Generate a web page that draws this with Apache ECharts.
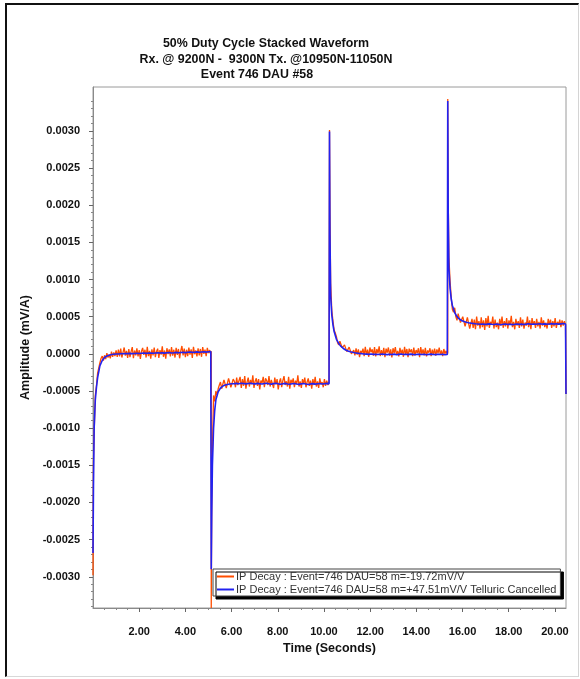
<!DOCTYPE html>
<html>
<head>
<meta charset="utf-8">
<title>50% Duty Cycle Stacked Waveform</title>
<script src="https://cdn.jsdelivr.net/npm/echarts@6/dist/echarts.min.js"></script>
<style>
  html, body { margin: 0; padding: 0; background: #fff; }
  #chart { position: absolute; left: 0; top: 0; width: 580px; height: 679px; }
  .frame {
    position: absolute; left: 5px; top: 3px; width: 571px; height: 671px;
    border-left: 2px solid #111; border-top: 2px solid #111;
    border-right: 1px solid #d4d4d4; border-bottom: 1px solid #d8d8d8;
    pointer-events: none;
  }
</style>
</head>
<body>
<div id="chart"></div>
<div class="frame"></div>
<script>
// amplitudes are in micro (mV/A), converted when the series are built
const UNIT = 1e-6;

// start of each half cycle (s)
const segStart = [0, 5.12, 10.24, 15.36];

// sample times inside one half cycle (s): blue (smoothed) and orange (raw)
const blueT = [0, 0.02, 0.05, 0.1, 0.15, 0.2, 0.3, 0.4, 0.5, 0.6, 0.7, 0.8, 0.9, 1.0,
  1.1, 1.2, 1.3, 1.4, 1.5, 1.6, 1.7, 1.8, 1.9, 2.0, 2.1, 2.2, 2.3, 2.4, 2.5, 2.6,
  2.7, 2.8, 2.9, 3.0, 3.1, 3.2, 3.3, 3.4, 3.5, 3.6, 3.7, 3.8, 3.9, 4.0, 4.1, 4.2,
  4.3, 4.4, 4.5, 4.6, 4.7, 4.8, 4.9, 5.0, 5.1, 5.12];
const orangeT = [0, 0.02, 0.05, 0.1, 0.15,
  0.2, 0.25, 0.3, 0.35, 0.4, 0.45, 0.5, 0.55, 0.6, 0.65, 0.7, 0.75, 0.8, 0.85, 0.9, 0.95, 1.0,
  1.05, 1.1, 1.15, 1.2, 1.25, 1.3, 1.35, 1.4, 1.45, 1.5,
  1.55, 1.6, 1.65, 1.7, 1.75, 1.8, 1.85, 1.9, 1.95, 2.0,
  2.05, 2.1, 2.15, 2.2, 2.25, 2.3, 2.35, 2.4, 2.45, 2.5,
  2.55, 2.6, 2.65, 2.7, 2.75, 2.8, 2.85, 2.9, 2.95, 3.0,
  3.05, 3.1, 3.15, 3.2, 3.25, 3.3, 3.35, 3.4, 3.45, 3.5,
  3.55, 3.6, 3.65, 3.7, 3.75, 3.8, 3.85, 3.9, 3.95, 4.0,
  4.05, 4.1, 4.15, 4.2, 4.25, 4.3, 4.35, 4.4, 4.45, 4.5,
  4.55, 4.6, 4.65, 4.7, 4.75, 4.8, 4.85, 4.9, 4.95, 5.0,
  5.05, 5.1, 5.12];

// raw IP decay (orange)
const orange1 = [-2980, -1450, -1050, -560, -430,
  -260, -190, -120, -60, -30, -90, -20, -70, 10, -50, -10, -60, 30, -40, 20, -30, 45,
  -40, 55, -35, 70, -50, 20, 85, -25, 40, -55,
  65, -45, 30, 90, -60, 45, -20, 75, -35, 50,
  -70, 35, 80, -15, 55, -50, 95, -30, 40, -65,
  60, -20, 85, -45, 30, 70, -55, 50, -10, 100,
  -40, 45, -65, 75, -5, 60, -35, 90, -25, 55,
  -50, 80, -15, 65, -60, 40, 105, -20, 70, -45,
  55, -30, 85, -10, 60, -55, 95, -5, 45, -35,
  75, -20, 65, -40, 90, 0, 55, -30, 80, 10,
  50, -15, 35];
const orange2 = [-3420, -2050, -1300, -560, -640,
  -500, -560, -470, -420, -380, -470, -450, -350, -360, -460, -440, -330, -350, -450, -430, -340, -370,
  -450, -320, -420, -360, -310, -460, -340, -430, -300, -470,
  -380, -320, -440, -350, -410, -290, -460, -370, -330, -430,
  -340, -480, -360, -390, -310, -450, -330, -360, -420, -300,
  -440, -350, -370, -460, -320, -410, -340, -480, -380, -330,
  -450, -360, -300, -420, -370, -440, -310, -470, -350, -390,
  -330, -450, -360, -410, -290, -440, -370, -460, -340, -400,
  -320, -450, -380, -330, -430, -360, -470, -340, -420, -310,
  -440, -370, -460, -330, -410, -380, -450, -340, -430, -360,
  -420, -380, -390];
const orange3 = [3010, 1900, 950, 580, 440,
  320, 280, 230, 150, 120, 170, 150, 80, 60, 120, 100, 30, 20, 90, 70, 0, -10,
  50, -20, 75, -10, 60, -45, 40, 10, 70, -30,
  95, -15, 55, -40, 85, 20, 60, -25, 90, -35,
  65, 5, 100, -30, 50, -20, 80, -45, 70, 15,
  85, -25, 60, -50, 75, 10, 90, -15, 40, -35,
  80, 0, 55, -40, 95, -10, 65, -45, 70, 20,
  60, -30, 85, -20, 50, 10, 75, -45, 90, -5,
  60, -20, 80, -35, 45, 15, 75, -30, 55, -10,
  70, -25, 60, 5, 85, -15, 45, -30, 65, 0,
  40, -10, 20];
const orange4 = [3430, 2100, 1300, 980, 760,
  600, 560, 620, 500, 450, 540, 520, 420, 400, 500, 480, 370, 380, 490, 470, 340, 350,
  470, 350, 460, 330, 500, 380, 440, 340, 490, 360,
  450, 320, 480, 370, 510, 350, 430, 390, 500, 340,
  460, 360, 420, 330, 470, 380, 500, 350, 440, 370,
  480, 340, 450, 390, 510, 360, 430, 330, 470, 380,
  440, 350, 490, 370, 460, 340, 420, 380, 500, 360,
  450, 330, 480, 390, 440, 350, 470, 370, 430, 340,
  490, 380, 450, 360, 420, 340, 470, 390, 460, 350,
  440, 370, 480, 350, 430, 390, 460, 360, 450, 380,
  440, 390, 410];

// telluric cancelled decay (blue)
const blue1 = [-2680, -1800, -1000, -620, -450, -320, -160, -90, -50, -30, -18, -10, -6, -3,
  -2, 2, 0, 4, 3, 6, 2, 5, 8, 4, 7, 10, 6, 9, 12, 8, 11, 14, 10, 13, 9, 14, 17, 12, 15, 19,
  14, 18, 21, 16, 20, 24, 19, 22, 26, 21, 25, 28, 23, 27, 30,
  30];
const blue2 = [-2900, -2200, -1500, -1000, -760, -620, -510, -460, -435, -420, -412, -406, -403, -401,
  -398, -402, -396, -400, -404, -399, -395, -401, -405, -398, -402, -407, -400, -396, -403,
  -408, -401, -397, -404, -409, -402, -398, -405, -410, -403, -399, -406, -411, -404, -400,
  -407, -412, -405, -401, -408, -403, -399, -406, -402, -398, -404,
  -405];
const blue3 = [2990, 1600, 780, 520, 390, 300, 195, 140, 100, 72, 52, 38, 28, 20,
  14, 9, 5, 2, -2, -4, -7, -3, -8, -5, -10, -6, -2, -8, -11, -5, -9, -4, -12, -7, -3, -9,
  -6, -11, -4, -8, -13, -7, -5, -10, -6, -12, -8, -4, -9, -11, -6, -10, -7, -12, -9,
  -10];
const blue4 = [3400, 1900, 1150, 880, 740, 650, 555, 500, 468, 448, 434, 425, 418, 413,
  409, 405, 402, 398, 401, 396, 399, 403, 397, 394, 400, 396, 392, 398, 401, 395, 399, 393,
  397, 402, 396, 400, 395, 399, 404, 398, 402, 397, 401, 405, 399, 403, 398, 402, 406, 400,
  404, 399, 403, 407, 402,
  405];

// start of the next cycle's step at the right edge
const endTime = 20.48;
const endDrop = -540;

const xTicks = [2, 4, 6, 8, 10, 12, 14, 16, 18, 20];
const yTicks = [-0.003, -0.0025, -0.002, -0.0015, -0.001, -0.0005, 0,
  0.0005, 0.001, 0.0015, 0.002, 0.0025, 0.003];

const nameOrange = 'IP Decay : Event=746 DAU=58 m=-19.72mV/V';
const nameBlue = 'IP Decay : Event=746 DAU=58 m=+47.51mV/V Telluric Cancelled';

// minor ticks: 0.5 s on time, 0.0001 on amplitude
const xMinor = [];
for (let i = 1; i <= 40; i++) if (i % 4) xMinor.push(i * 0.5);
const yMinor = [];
for (let i = -34; i <= 35; i++) if (i % 5) yMinor.push(+(i * 1e-4).toFixed(4));

function buildSeries(times, segs) {
  const pts = [];
  segs.forEach((vals, k) => {
    vals.forEach((v, i) => pts.push([+(segStart[k] + times[i]).toFixed(3), v * UNIT]));
  });
  pts.push([endTime, endDrop * UNIT]);
  return pts;
}

const FONT = '"Liberation Sans", Arial, sans-serif';
const X_MIN = 0, X_MAX = 20.48;
const Y_MIN = -0.00342, Y_MAX = 0.00359;

const chart = echarts.init(document.getElementById('chart'));

const option = {
  animation: false,
  backgroundColor: '#fff',
  textStyle: { fontFamily: FONT },
  graphic: [
    { type: 'text', x: 266, y: 38, style: { text: '50% Duty Cycle Stacked Waveform', align: 'center', font: 'bold 12.4px ' + FONT, fill: '#111' } },
    { type: 'text', x: 266, y: 54, style: { text: 'Rx. @ 9200N -  9300N Tx. @10950N-11050N', align: 'center', font: 'bold 12.4px ' + FONT, fill: '#111' } },
    { type: 'text', x: 257, y: 69, style: { text: 'Event 746 DAU #58', align: 'center', font: 'bold 12.4px ' + FONT, fill: '#111' } }
  ],
  legend: {
    orient: 'vertical',
    left: 213,
    top: 569,
    data: [
      { name: nameOrange, icon: 'rect' },
      { name: nameBlue, icon: 'rect' }
    ],
    itemWidth: 17,
    itemHeight: 2,
    itemGap: 2,
    padding: [2, 4, 1, 4],
    backgroundColor: '#fff',
    borderColor: '#444',
    borderWidth: 1,
    shadowColor: '#000',
    shadowBlur: 0,
    shadowOffsetX: 3,
    shadowOffsetY: 3,
    textStyle: { fontSize: 11, color: '#333', fontFamily: FONT, padding: [0, 0, 0, -3] }
  },
  grid: {
    left: 93, right: 14, top: 87, bottom: 71,
    show: true, borderColor: '#9a9a9a', borderWidth: 1
  },
  xAxis: [
    {
      type: 'value', min: X_MIN, max: X_MAX,
      name: 'Time (Seconds)', nameLocation: 'middle', nameGap: 32,
      nameTextStyle: { fontWeight: 'bold', fontSize: 12.5, color: '#111' },
      axisLine: { onZero: false, lineStyle: { color: '#8a8a8a' } },
      axisTick: { customValues: xTicks, length: 4, lineStyle: { color: '#666' } },
      axisLabel: { customValues: xTicks, formatter: v => v.toFixed(2), margin: 18,
        fontWeight: 'bold', fontSize: 11, color: '#111' },
      splitLine: { show: false }
    },
    {
      type: 'value', min: X_MIN, max: X_MAX, position: 'bottom',
      axisLine: { show: false, onZero: false },
      axisTick: { customValues: xMinor, length: 2, lineStyle: { color: '#888' } },
      axisLabel: { show: false },
      splitLine: { show: false }
    }
  ],
  yAxis: [
    {
      type: 'value', min: Y_MIN, max: Y_MAX, position: 'left',
      name: 'Amplitude (mV/A)', nameLocation: 'middle', nameGap: 48,
      nameTextStyle: { fontWeight: 'bold', fontSize: 12.5, color: '#111' },
      axisLine: { show: true, onZero: false, lineStyle: { color: '#8a8a8a' } },
      axisTick: { show: true, customValues: yTicks, length: 4, lineStyle: { color: '#666' } },
      axisLabel: { customValues: yTicks, formatter: v => v.toFixed(4), margin: 13,
        fontWeight: 'bold', fontSize: 11, color: '#111' },
      splitLine: { show: false }
    },
    {
      type: 'value', min: Y_MIN, max: Y_MAX, position: 'left',
      axisLine: { show: false, onZero: false },
      axisTick: { show: true, customValues: yMinor, length: 2, lineStyle: { color: '#888' } },
      axisLabel: { show: false },
      splitLine: { show: false }
    }
  ],
  series: [
    {
      name: nameOrange, type: 'line', symbol: 'none', z: 2,
      data: buildSeries(orangeT, [orange1, orange2, orange3, orange4]),
      itemStyle: { color: '#ff4d00' },
      lineStyle: { width: 1.3, color: '#ff4d00' }
    },
    {
      name: nameBlue, type: 'line', symbol: 'none', z: 3,
      data: buildSeries(blueT, [blue1, blue2, blue3, blue4]),
      itemStyle: { color: '#2222f0' },
      lineStyle: { width: 1.6, color: '#2222f0' }
    }
  ]
};

chart.setOption(option);
window.onresize = () => chart.resize();
</script>
</body>
</html>
